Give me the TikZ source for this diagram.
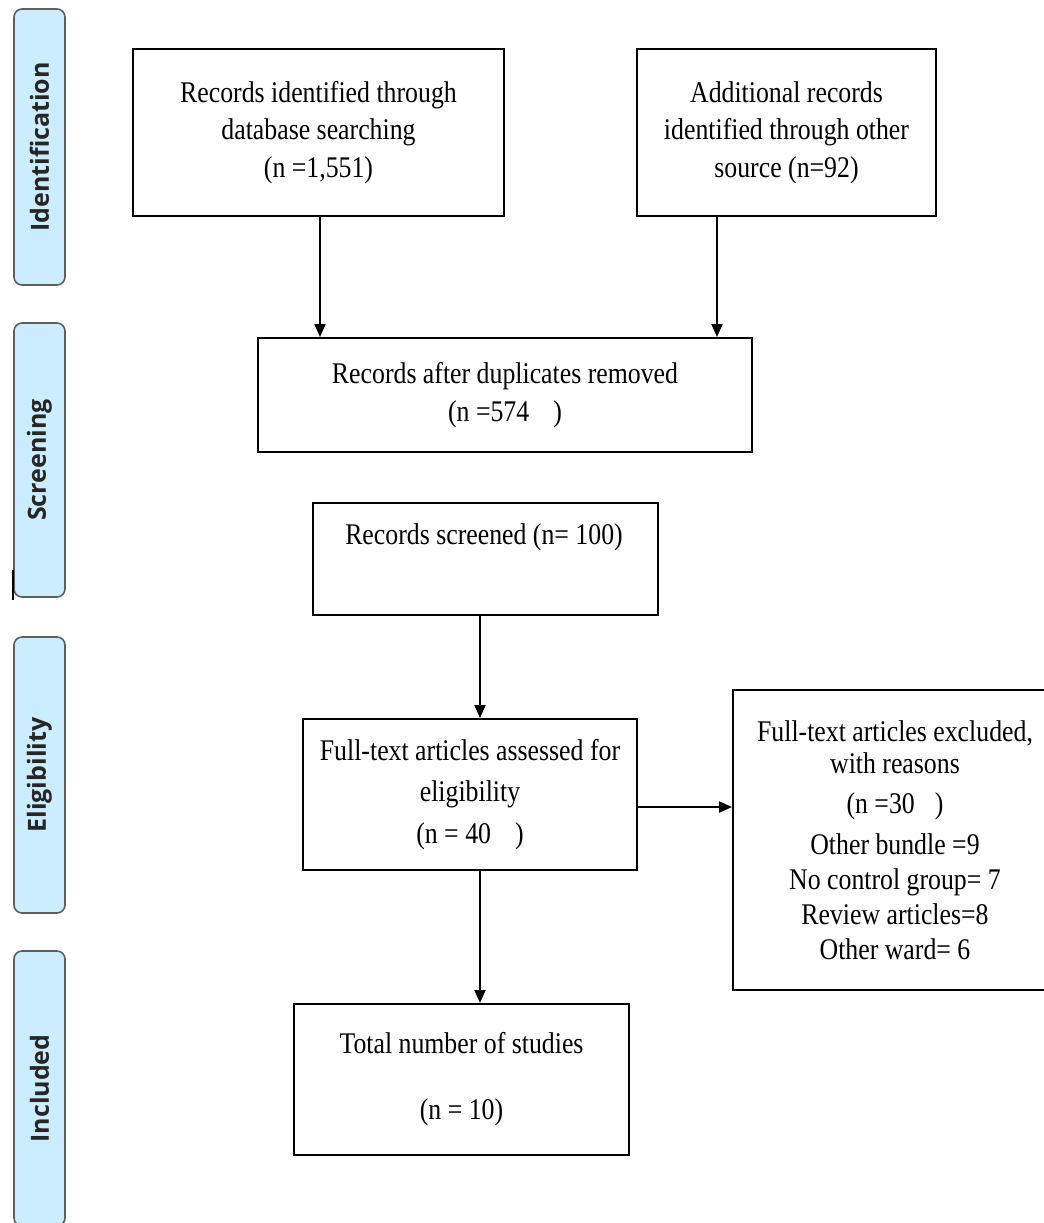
\documentclass[tikz,border=0pt]{standalone}
\usepackage{fontspec}
\usetikzlibrary{arrows.meta}
\newfontfamily\boxfont{Liberation Serif}[FakeStretch=0.86]
\newfontfamily\sidefont{Open Sans}
\definecolor{sidefill}{RGB}{204,236,255}
\definecolor{sideline}{RGB}{95,95,95}
\begin{document}
\begin{tikzpicture}[x=0.5pt,y=-0.5pt,
  sidebox/.style={draw=sideline, line width=0.8pt, fill=sidefill, rounded corners=4pt,
    rotate=90, minimum height=25.5pt, inner sep=0pt,
    font=\sidefont\bfseries\fontsize{12.5}{14}\selectfont, text=black!85},
  flowbox/.style={draw=black, line width=1pt, inner sep=0pt, align=center,
    font=\boxfont\fontsize{15}{17.5}\selectfont},
  txt/.style={inner sep=0pt, align=center, font=\boxfont\fontsize{15}{17.5}\selectfont},
  arr/.style={draw=black, line width=1pt, -{Triangle[length=6.5pt,width=5.5pt]}}
]
\useasboundingbox (0,0) rectangle (1044,1223);
\clip (0,0) rectangle (1044,1223);

% side phase labels
\node[sidebox, minimum width=138pt] (s1) at (39.5,147) {Identification};
\node[sidebox, minimum width=137pt] (s2) at (39.5,460) {Screening};
\node[sidebox, minimum width=138pt] (s3) at (39.5,775) {Eligibility};
\node[sidebox, minimum width=137.5pt] (s4) at (39.5,1088.5) {Included};
\coordinate (tk1) at (13,570);
\coordinate (tk2) at (13,600);
\draw[line width=0.8pt] (tk1) -- (tk2);

% flow boxes
\node[flowbox, minimum width=185.5pt, minimum height=83.5pt] (A) at (318.5,132.5)
  {Records identified through\\[1.25pt] database searching\\[1.25pt] (n =1,551)};
\node[flowbox, minimum width=149.5pt, minimum height=83.5pt] (B) at (786.5,132.5)
  {Additional records\\[1.25pt] identified through other\\[1.25pt] source (n=92)};
\node[flowbox, minimum width=247pt, minimum height=57pt] (C) at (505,395)
  {Records after duplicates removed\\[1.5pt] (n =574\hspace{12pt})};
\node[flowbox, minimum width=172.5pt, minimum height=56pt] (D) at (485.5,559) {};
\node[txt] (tD) at (484,537) {Records screened (n= 100)};
\node[flowbox, minimum width=167pt, minimum height=75.5pt] (E) at (470,794.5)
  {Full-text articles assessed for\\[3.25pt] eligibility\\[3.25pt] (n = 40\hspace{12pt})};
\node[flowbox, minimum width=162pt, minimum height=150pt] (F) at (895,840)
  {Full-text articles excluded,\\[-1.5pt] with reasons\\[2.5pt] (n =30\hspace{10pt})\\[3pt]
   Other bundle =9\\ No control group= 7\\ Review articles=8\\ Other ward= 6};
\node[flowbox, minimum width=167.5pt, minimum height=75.5pt] (G) at (461.5,1079.5)
  {Total number of studies\\[15.5pt] (n = 10)};

% connectors
\coordinate (ax) at (320,0);
\coordinate (bx) at (717,0);
\coordinate (mx) at (480,0);
\coordinate (my) at (0,807);
\draw[arr] (A.south -| ax) -- (C.north -| ax);
\draw[arr] (B.south -| bx) -- (C.north -| bx);
\draw[arr] (D.south -| mx) -- (E.north -| mx);
\draw[arr] (E.east |- my) -- (F.west |- my);
\draw[arr] (E.south -| mx) -- (G.north -| mx);
\end{tikzpicture}
\end{document}
